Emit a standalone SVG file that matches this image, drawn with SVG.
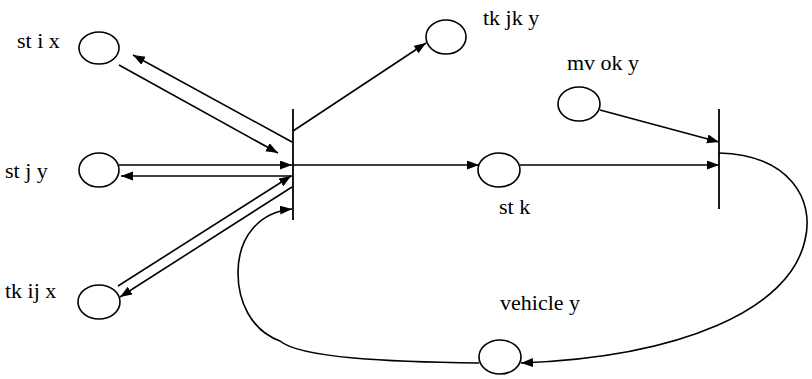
<svg xmlns="http://www.w3.org/2000/svg" width="812" height="379" viewBox="0 0 812 379">
<defs>
<marker id="ah" markerUnits="userSpaceOnUse" markerWidth="13" markerHeight="10" refX="12" refY="4.5" orient="auto"><path d="M0,0 L12,4.5 L0,9 z" fill="#000"/></marker>
<style>
.p{fill:#fff;stroke:#000;stroke-width:1.6}
.t{font-family:'Times New Roman','Liberation Serif',serif;font-size:22px;fill:#000}
.bar{stroke:#000;stroke-width:1.8}
.c{fill:none;stroke:#000;stroke-width:1.6}
.a{marker-end:url(#ah)}
</style>
</defs>
<rect width="812" height="379" fill="#fff"/>
<g id="connectors">
<line class="c a" x1="119" y1="65" x2="278" y2="153"/>
<line class="c a" x1="292" y1="142" x2="133" y2="55"/>
<line class="c a" x1="119" y1="165" x2="292" y2="165"/>
<line class="c a" x1="292" y1="176" x2="121" y2="176"/>
<line class="c a" x1="118" y1="286" x2="291" y2="176"/>
<line class="c a" x1="292" y1="187" x2="120" y2="297"/>
<line class="c a" x1="293" y1="131" x2="426" y2="43"/>
<line class="c a" x1="293" y1="165" x2="479" y2="165"/>
<line class="c a" x1="520" y1="165" x2="719" y2="165"/>
<line class="c a" x1="600" y1="110" x2="719" y2="142"/>
<path class="c a" d="M719 153 C790 155 815 200 805 240 C790 310 680 357 521 363"/>
<path class="c a" d="M479 363 C390 362 300 358 280 341 C250 330 238 300 238 273 C238 236 260 212 292 209"/>
</g>
<g id="t1"><line class="bar" x1="293" y1="109" x2="293" y2="220"/></g>
<g id="t2"><line class="bar" x1="719" y1="109" x2="719" y2="209"/></g>
<g id="st_i_x"><ellipse class="p" cx="99" cy="48" rx="20" ry="16"/><text class="t" x="17" y="48">st i x</text></g>
<g id="st_j_y"><ellipse class="p" cx="99" cy="170" rx="20" ry="17"/><text class="t" x="5" y="178">st j y</text></g>
<g id="tk_ij_x"><ellipse class="p" cx="99" cy="302" rx="21" ry="17"/><text class="t" x="5" y="298">tk ij x</text></g>
<g id="tk_jk_y"><ellipse class="p" cx="446" cy="37" rx="20" ry="17"/><text class="t" x="483" y="25">tk jk y</text></g>
<g id="st_k"><ellipse class="p" cx="499" cy="170" rx="21" ry="17"/><text class="t" x="499" y="214">st k</text></g>
<g id="mv_ok_y"><ellipse class="p" cx="579" cy="104" rx="21" ry="17"/><text class="t" x="567" y="70">mv ok y</text></g>
<g id="vehicle_y"><ellipse class="p" cx="500" cy="357" rx="21" ry="17"/><text class="t" x="500" y="310">vehicle y</text></g>
</svg>
